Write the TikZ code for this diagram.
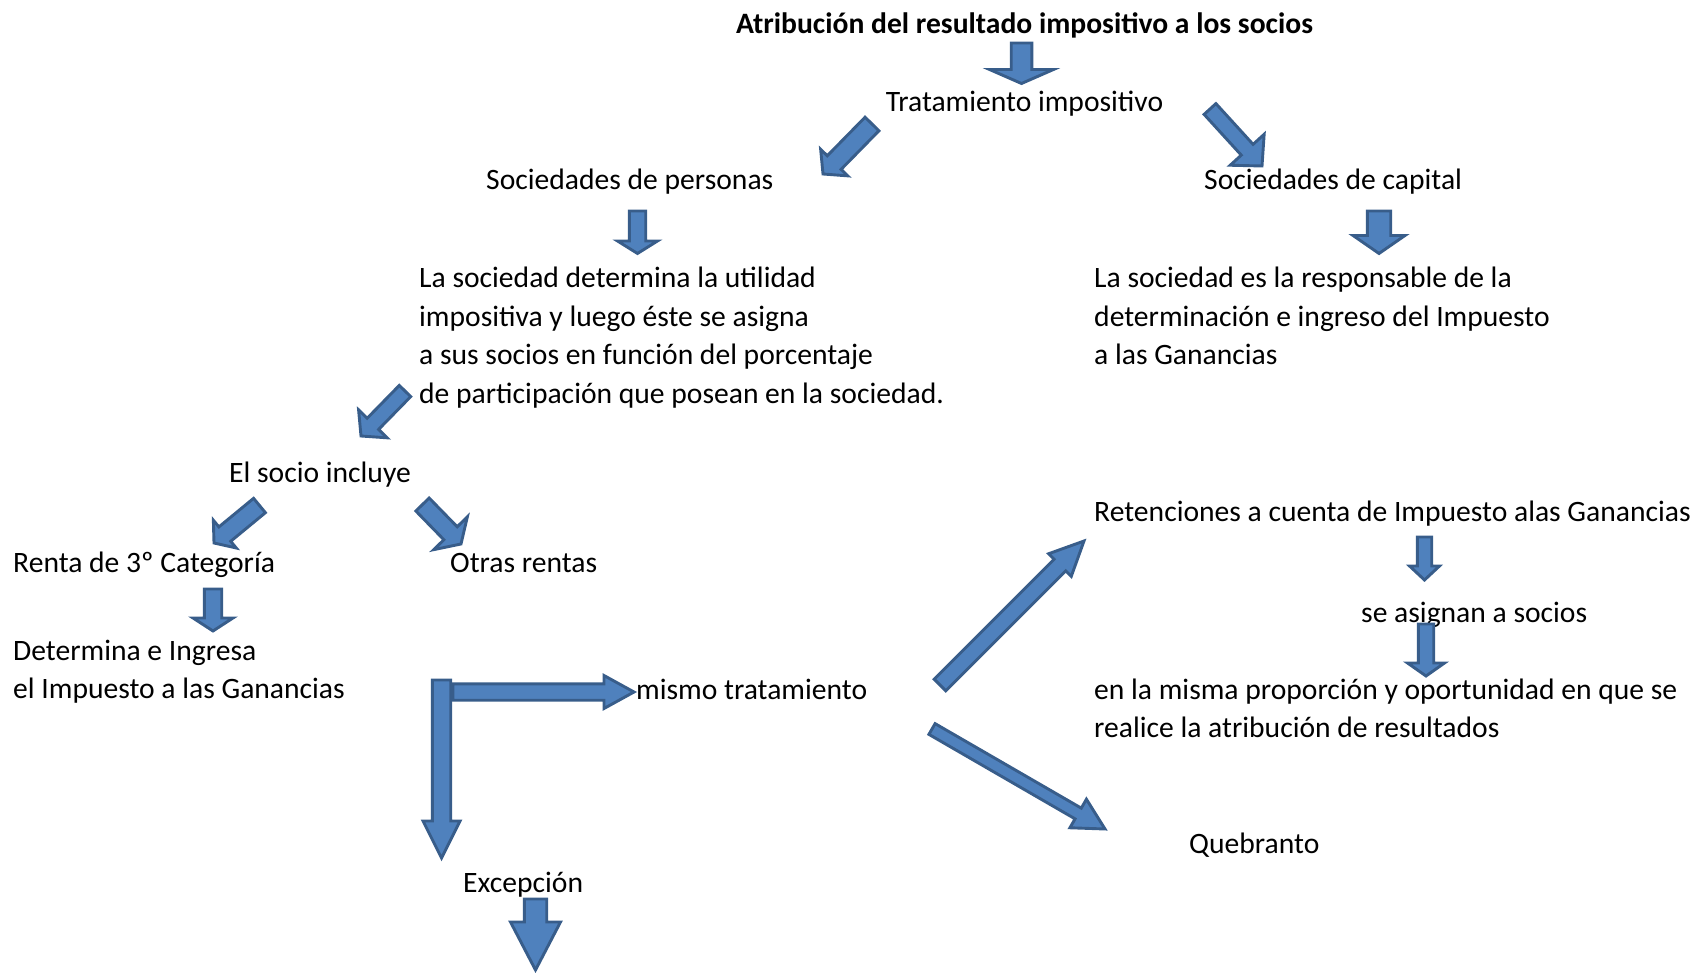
\documentclass[tikz,border=0pt]{standalone}
\usepackage{fontspec}
\setmainfont{Carlito}
\usetikzlibrary{calc}
\definecolor{arrowfill}{HTML}{4F81BD}
\definecolor{arrowline}{HTML}{385D8A}
\newcommand{\fatarrow}[5]{%
  \coordinate (fa-h) at ($(#2)!#5pt!(#1)$);
  \draw[fat] ($(#1)!#3pt!90:(#2)$) -- ($(fa-h)!#3pt!90:(#2)$) -- ($(fa-h)!#4pt!90:(#2)$) -- (#2)
    -- ($(fa-h)!#4pt!-90:(#2)$) -- ($(fa-h)!#3pt!-90:(#2)$) -- ($(#1)!#3pt!-90:(#2)$) -- cycle;}
\newcommand{\lines}[1]{\begin{tabular}[t]{@{}l@{}}#1\end{tabular}}
\begin{document}
\begin{tikzpicture}[x=1pt,y=-1pt,
    fat/.style={fill=arrowfill, draw=arrowline, line width=2.9pt, line join=miter},
    txt/.style={inner sep=0pt, anchor=base west, font=\fontsize{29.6}{38.4}\selectfont}]
	\useasboundingbox (0,0) rectangle (1696,973);
	\node[txt, anchor=base, font=\fontsize{29.6}{38.4}\selectfont\bfseries] (title) at (1024.5,34) {Atribución del resultado impositivo a los socios};
	\node[txt, anchor=base] (trat) at (1024.5,112) {Tratamiento impositivo};
	\node[txt] (personas) at (486,190) {Sociedades de personas};
	\node[txt] (capital) at (1204,190) {Sociedades de capital};
	\node[txt] (determina) at (419,288) {\lines{La sociedad determina la utilidad\\impositiva y luego éste se asigna\\a sus socios en función del porcentaje\\de participación que posean en la sociedad.}};
	\node[txt] (responsable) at (1094,288) {\lines{La sociedad es la responsable de la\\determinación e ingreso del Impuesto\\a las Ganancias}};
	\node[txt] (socio) at (229,482) {El socio incluye};
	\node[txt] (renta) at (13,572) {Renta de 3º Categoría};
	\node[txt] (otras) at (450,572) {Otras rentas};
	\node[txt] (ingresa) at (13,660) {\lines{Determina e Ingresa\\el Impuesto a las Ganancias}};
	\node[txt] (mismo) at (636,699) {mismo tratamiento};
	\node[txt] (retenciones) at (1094,521) {Retenciones a cuenta de Impuesto alas Ganancias};
	\node[txt] (asignan) at (1361,622) {se asignan a socios};
	\node[txt] (proporcion) at (1094,699) {\lines{en la misma proporción y oportunidad en que se\\realice la atribución de resultados}};
	\node[txt] (quebranto) at (1189,853) {Quebranto};
	\node[txt] (excepcion) at (463,892) {Excepción};
	
	\fatarrow{1021.5,43}{1021.5,83.5}{10.3}{32}{14}
	\fatarrow{872,124}{823,174}{9.7}{19}{16}
	\fatarrow{1210,109}{1262,166}{8}{23}{22}
	\fatarrow{637.5,211}{637.5,253.5}{8.2}{20}{12.5}
	\fatarrow{1379,211}{1379,253.5}{11.7}{26}{18}
	\fatarrow{405,391}{361,436}{8}{20}{17}
	\fatarrow{259.5,505.5}{214,543}{9.3}{18}{14}
	\fatarrow{422.5,504.5}{461,544}{9.3}{23.5}{15}
	\fatarrow{213,589}{213,631}{8.7}{20}{13}
	\fatarrow{1424.5,537}{1424.5,580}{7.2}{15}{14}
	\fatarrow{1426,624}{1426,676}{7.7}{18.5}{13}
	\fatarrow{453,692}{634,692}{8.2}{16.5}{30}
	\fatarrow{441.5,680}{441.5,858}{9.2}{18.5}{37}
	\fatarrow{535.5,899}{535.5,970}{11.2}{25}{48}
	\fatarrow{940,685}{1084,541}{8.2}{16}{34}
	\fatarrow{932,729}{1105,829}{6.2}{16.5}{31}
\end{tikzpicture}
\end{document}
